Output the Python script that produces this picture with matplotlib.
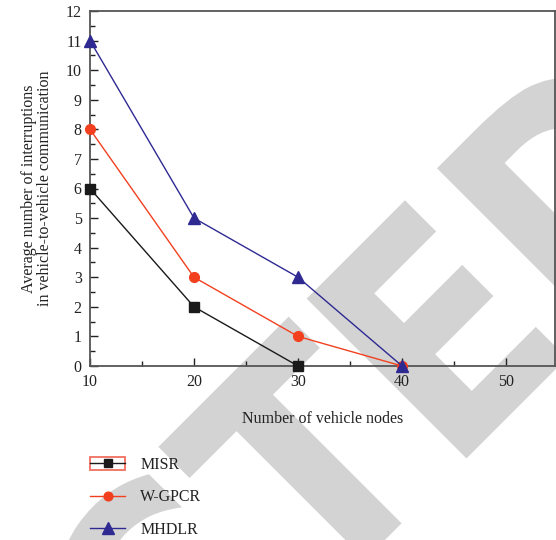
import numpy as np
import matplotlib
matplotlib.use("Agg")
import matplotlib.pyplot as plt
from matplotlib.textpath import TextPath
from matplotlib.font_manager import FontProperties
from matplotlib.patches import PathPatch, Rectangle
from matplotlib.transforms import Affine2D, IdentityTransform
from matplotlib.ticker import MultipleLocator

plt.rcParams['font.family'] = ['Liberation Serif', 'DejaVu Serif']

# data
nodes = [10, 20, 30, 40]
misr = [6, 2, 0]
wgpcr = [8, 3, 1, 0]
mhdlr = [11, 5, 3, 0]
series_names = ['MISR', 'W-GPCR', 'MHDLR']

W, H = 556, 540
fig = plt.figure(figsize=(W / 100, H / 100), dpi=100)

# RETRACTED watermark (only C T E D fall inside this crop)
fp = FontProperties(family='DejaVu Sans', weight='bold')
e_box = TextPath((0, 0), 'E', size=1, prop=fp).get_extents()
sx = 142 / e_box.width
sy = 226 / e_box.height
vbase = 654
rot = Affine2D().rotate_deg(45).translate(vbase / np.sqrt(2), H - vbase / np.sqrt(2))
letters = [('C', -400), ('T', -204), ('E', 5.7), ('D', 190)]
for ch, uoff in letters:
    p = TextPath((0, 0), ch, size=1, prop=fp)
    b = p.get_extents()
    tr = Affine2D().translate(-b.x0, 0).scale(sx, sy).translate(uoff, 0) + rot
    fig.add_artist(PathPatch(p, transform=tr + IdentityTransform(), facecolor='#d3d3d3',
                             edgecolor='none', zorder=-5))

ax = fig.add_axes([90 / W, 1 - 366 / H, (555 - 90) / W, (366 - 11) / H])
ax.set_facecolor('none')

ax.plot(nodes[:3], misr, color='#1a1a1a', lw=1, marker='s', ms=7, clip_on=False, zorder=3,
        label=series_names[0])
ax.plot(nodes, wgpcr, color='#f2401f', lw=1, marker='o', ms=7, clip_on=False, zorder=3,
        label=series_names[1])
ax.plot(nodes, mhdlr, color='#2f2a92', lw=1, marker='^', ms=9, clip_on=False, zorder=3,
        label=series_names[2])

ax.set_xlim(10, 54.7)
ax.set_ylim(0, 12)
ax.xaxis.set_major_locator(MultipleLocator(10))
ax.xaxis.set_minor_locator(MultipleLocator(5))
ax.yaxis.set_major_locator(MultipleLocator(1))
ax.yaxis.set_minor_locator(MultipleLocator(0.5))
ax.tick_params(which='both', direction='in', top=False, right=False, colors='#222222',
               labelsize=11.5, labelcolor='#222222')
ax.tick_params(which='major', length=6, width=1)
ax.tick_params(which='minor', length=3.5, width=1)
ax.tick_params(axis='x', pad=6)
ax.tick_params(axis='y', pad=6)
for s in ax.spines.values():
    s.set_color('#555555')
    s.set_linewidth(1.3)

ax.set_xlabel('Number of vehicle nodes', fontsize=11.5, color='#222222', labelpad=15)
ax.set_ylabel('Average number of interruptions\nin vehicle-to-vehicle communication',
              fontsize=11.5, color='#222222', labelpad=9, linespacing=1.0)

leg = fig.legend(loc='upper left', bbox_to_anchor=(90 / W, 1 - 457 / H), frameon=False,
                 fontsize=11.5, handlelength=2.2, handletextpad=0.95, labelspacing=1.02,
                 borderaxespad=0, borderpad=0, markerscale=0.9)
for t in leg.get_texts():
    t.set_color('#222222')

# red selection box around the first legend handle
fig.add_artist(Rectangle((90, H - 470), 35, 13, transform=IdentityTransform(),
                         fill=False, edgecolor='#f07060', lw=1.3, zorder=5))

fig.savefig('out.png', dpi=100)
